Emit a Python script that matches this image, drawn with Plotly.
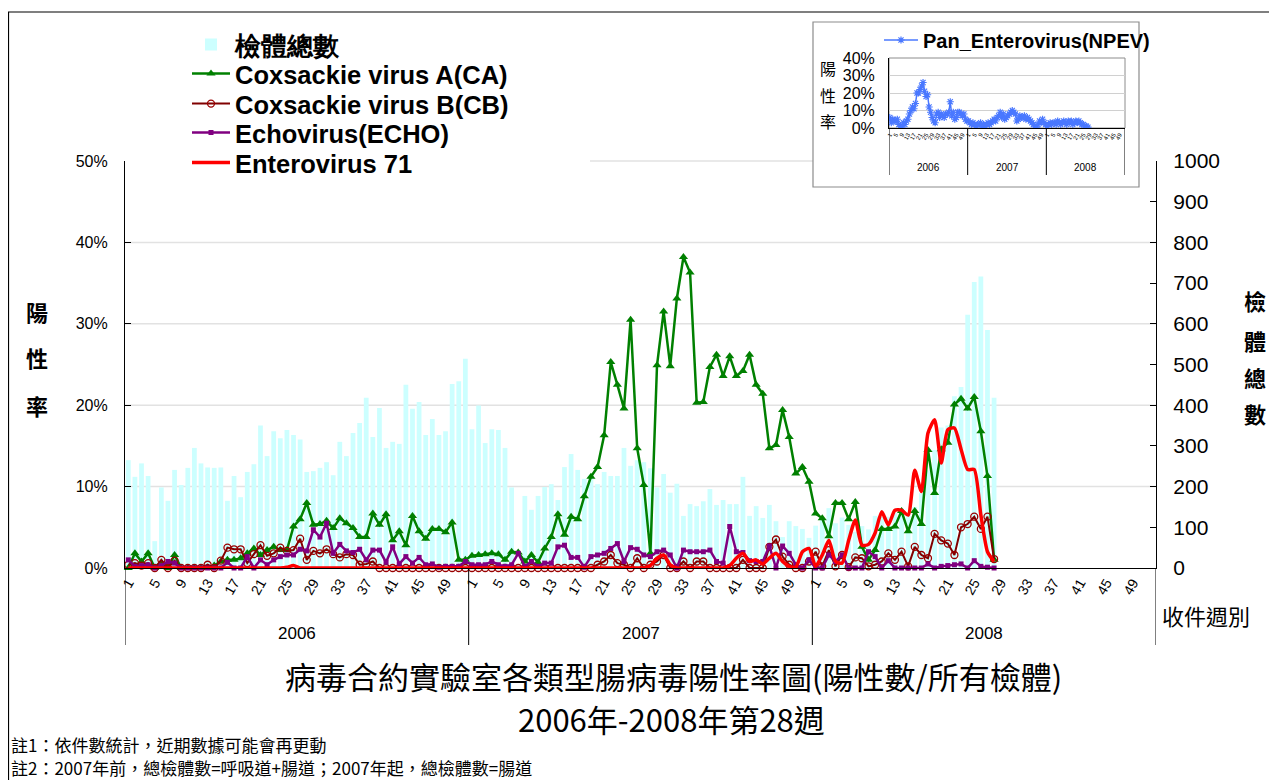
import plotly.graph_objects as go

# ---------------- data ----------------
years = ["2006", "2007", "2008"]
weeks_per_year = 52
tick_weeks = [1, 5, 9, 13, 17, 21, 25, 29, 33, 37, 41, 45, 49]

# total specimens per week (right axis)
specimens_2006 = [265, 224, 257, 226, 66, 198, 165, 241, 204, 246, 295, 257, 247, 246, 247, 165, 226, 174, 236, 255,
                  350, 275, 336, 319, 339, 327, 316, 236, 238, 246, 260, 228, 310, 275, 332, 356, 418, 322, 393, 295,
                  310, 305, 450, 391, 408, 327, 366, 327, 336, 452, 459, 514]
specimens_2007 = [341, 399, 307, 341, 339, 295, 198, 10, 177, 143, 177, 199, 206, 167, 248, 280, 241, 219, 228, 206,
                  236, 226, 226, 295, 251, 265, 260, 245, 198, 231, 185, 207, 128, 157, 152, 164, 194, 155, 167, 157,
                  157, 224, 128, 152, 123, 155, 115, 76, 115, 103, 96, 74]
specimens_2008 = [104, 118, 147, 110, 124, 106, 89, 103, 95, 128, 126, 126, 135, 147, 135, 150, 184, 240, 290, 345,
                  350, 422, 445, 622, 703, 716, 585, 418]

# positive rates (%) (left axis)
ca_2006 = [0, 1.8, 0.8, 1.8, 0, 0.4, 0, 1.6, 0, 0, 0, 0, 0, 0.3, 0.8, 1.0, 1.0, 1.2, 1.8, 2.4,
           1.6, 2.2, 2.6, 2.2, 2.2, 5.1, 6.0, 8.0, 5.3, 5.4, 5.8, 4.9, 6.1, 5.5, 4.9, 3.8, 3.8, 6.7, 5.3, 6.6,
           3.4, 4.5, 2.8, 6.4, 4.5, 3.6, 4.8, 4.8, 4.4, 5.6, 1.0, 1.0]
ca_2007 = [1.5, 1.6, 1.7, 1.8, 1.7, 1.0, 2.0, 1.9, 0.8, 1.6, 0.7, 2.4, 3.8, 6.6, 4.1, 6.3, 6.0, 8.8, 11.2, 12.4,
           16.3, 25.3, 22.5, 19.6, 30.5, 14.7, 10.2, 1.8, 24.9, 31.5, 24.8, 33.1, 38.2, 36.3, 20.3, 20.4, 24.7, 26.2,
           23.6, 26.0, 23.6, 24.2, 26.2, 22.5, 21.4, 14.7, 15.1, 19.4, 16.1, 11.6, 12.4, 10.6]
ca_2008 = [6.7, 6.1, 3.9, 8.0, 8.0, 6.0, 8.1, 2.6, 1.0, 2.2, 4.8, 4.8, 5.1, 7.0, 4.5, 7.0, 5.4, 14.5, 9.2, 14.6,
           15.4, 20.1, 20.8, 19.6, 21.0, 16.8, 11.3, 1.0]

cb_2006 = [0.4, 0.6, 0.3, 0.6, 0, 1.0, 0, 0.9, 0, 0, 0, 0, 0.4, 0, 0.9, 2.5, 2.3, 2.3, 0.6, 1.7,
           2.8, 1.5, 1.8, 2.5, 2.1, 2.2, 3.6, 1.0, 2.1, 1.8, 2.3, 1.7, 1.3, 1.7, 1.6, 0.4, 0.5, 0.8, 0, 0,
           0, 0, 0, 0, 0, 0, 0, 0, 0, 0, 0, 0]
cb_2007 = [0, 0, 0, 0, 0, 0, 0, 0, 0, 0, 0, 0, 0, 0, 0, 0, 0, 0, 0, 0.4,
           0.8, 1.6, 0.6, 0.4, 0, 1.2, 0, 0.4, 0.8, 1.6, 0, 0, 0.8, 0, 0.8, 0.8, 0, 0, 0, 0,
           0, 1.0, 0, 0, 0, 2.6, 3.5, 1.4, 0.4, 0, 0, 0.8]
cb_2008 = [2.0, 0.2, 2.2, 0.2, 1.6, 0.1, 1.3, 1.2, 0.2, 0.4, 0.8, 1.8, 1.0, 2.0, 0.2, 2.6, 1.6, 1.2, 4.2, 3.4,
           3.0, 1.6, 5.0, 5.4, 6.3, 4.8, 6.3, 1.1]

echo_2006 = [1.0, 0.2, 0.3, 0.4, 0, 0.3, 0.8, 0.6, 0, 0, 0, 0, 0, 0, 0, 0.7, 0, 0, 1.4, 0,
             1.0, 0.4, 1.0, 1.4, 1.6, 1.6, 2.3, 2.1, 4.7, 3.8, 5.5, 1.8, 2.9, 2.1, 1.9, 2.3, 1.0, 2.2, 2.2, 0.7,
             2.6, 0.5, 1.4, 0.6, 1.3, 0.4, 0.5, 0.1, 0.2, 0.2, 0.2, 0.8]
echo_2007 = [0.4, 0.4, 0.4, 0.8, 0.4, 0.2, 0.4, 1.8, 0.2, 0.8, 0.2, 0.6, 0.6, 2.6, 2.8, 1.3, 1.3, 0.1, 1.4, 1.6,
             1.8, 2.4, 3.0, 0.8, 2.5, 2.3, 1.6, 1.4, 2.0, 2.2, 1.6, 0, 2.2, 2.0, 2.0, 2.0, 2.2, 0.8, 0.6, 5.1,
             2.0, 1.9, 0.9, 0.8, 0.8, 2.7, 0, 2.7, 1.8, 0.4, 0, 1.0]
echo_2008 = [0, 0, 1.6, 0.8, 1.6, 0, 0, 0, 2.0, 1.4, 0, 0.9, 0, 0, 0, 0, 0, 0.5, 0, 0.2,
             0.3, 0.4, 0.5, 0, 0.9, 0.2, 0.1, 0]

ev71_2006 = [0, 0, 0, 0, 0, 0, 0, 0, 0, 0, 0, 0, 0, 0, 0, 0, 0, 0, 0, 0,
             0, 0, 0, 0, 0.1, 0.3, 0, 0, 0, 0, 0, 0, 0, 0, 0, 0, 0, 0, 0, 0,
             0, 0, 0, 0, 0, 0, 0, 0, 0, 0, 0, 0]
ev71_2007 = [0, 0, 0, 0, 0, 0, 0, 0, 0, 0, 0, 0, 0, 0, 0, 0, 0, 0, 0, 0,
             0, 0, 0, 0, 0, 0, 0, 0.3, 1.2, 1.6, 0.4, 0, 0, 0, 0, 0, 0, 0, 0, 0.3,
             1.2, 1.8, 0.8, 1.0, 0.5, 1.2, 1.8, 0.8, 0.2, 0.1, 2.0, 2.4]
ev71_2008 = [0.2, 1.6, 3.4, 0.8, 0.6, 3.4, 5.9, 2.8, 2.9, 4.3, 6.9, 5.3, 7.1, 7.1, 6.5, 12.0, 9.4, 16.6, 18.2, 12.9,
             17.0, 17.2, 14.6, 12.1, 12.1, 6.5, 2.0, 0.8]

# inset: Pan_Enterovirus (NPEV) positive rate (%)
npev_2006 = [6, 3, 5, 4, 4, 5, 2, 1, 1, 3, 2, 4, 5, 8, 10, 12, 11, 14, 20, 20, 22, 24, 26, 21, 18, 19,
             12, 9, 6, 4, 3, 8, 9, 6, 8, 7, 6, 8, 8, 9, 15, 7, 9, 5, 6, 9, 9, 8, 7, 8, 5, 4]
npev_2007 = [4, 3, 2, 3, 2, 1, 2, 2, 3, 1, 2, 1, 2, 3, 2, 3, 4, 5, 4, 6, 7, 9, 6, 8, 5, 6, 7, 8, 9, 10,
             9, 8, 4, 5, 7, 6, 6, 7, 5, 6, 5, 4, 3, 2, 1, 0.5, 2, 4, 3, 5, 3, 2]
npev_2008 = [1, 2, 3, 2, 3, 3, 2, 4, 3, 2, 3, 4, 3, 2, 4, 3, 4, 2, 3, 4, 3, 4, 3, 2, 2, 1, 1, 0.5]

series_names = ["Coxsackie virus A(CA)", "Coxsackie virus B(CB)", "Echovirus(ECHO)", "Enterovirus 71"]
bar_name = "檢體總數"
inset_name = "Pan_Enterovirus(NPEV)"

# ---------------- layout geometry (reference pixel coords) ----------------
W, H = 1277, 780
OFF = 8                      # page body margin of the html page
ML, MR, MT, MB = 125 - OFF, W - (1156 - OFF), 20 - OFF, H - (568 - OFF)
PW = W - ML - MR
PH = H - MT - MB
MAIN_TOP = 161


def px(xr):
    return (xr - OFF - ML) / PW


def py(yr):
    return (H - MB - (yr - OFF)) / PH


def seq(parts):
    out = []
    for p in parts:
        out += p
    return out


def week_positions(n_by_year):
    xs = []
    for i, n in enumerate(n_by_year):
        xs += [i * weeks_per_year + w for w in range(1, n + 1)]
    return xs


spec = seq([specimens_2006, specimens_2007, specimens_2008])
ca = seq([ca_2006, ca_2007, ca_2008])
cb = seq([cb_2006, cb_2007, cb_2008])
echo = seq([echo_2006, echo_2007, echo_2008])
ev71 = seq([ev71_2006, ev71_2007, ev71_2008])
npev = seq([npev_2006, npev_2007, npev_2008])
xw = week_positions([len(specimens_2006), len(specimens_2007), len(specimens_2008)])
xn = week_positions([len(npev_2006), len(npev_2007), len(npev_2008)])

tickvals = [i * weeks_per_year + w for i in range(len(years)) for w in tick_weeks]
ticktext = [str(w) for i in range(len(years)) for w in tick_weeks]
xmax = len(years) * weeks_per_year + 0.5

ARIAL = "Liberation Sans, Arial, sans-serif"
CJK = "Noto Sans CJK TC, sans-serif"

fig = go.Figure()

fig.add_trace(go.Bar(x=xw, y=spec, name=bar_name, marker=dict(color="#CCFFFF", line=dict(width=0)),
                     width=0.72, xaxis="x", yaxis="y", legend="legend"))
fig.add_trace(go.Scatter(x=xw, y=ca, name=series_names[0], mode="lines+markers", xaxis="x", yaxis="y2",
                         line=dict(color="#008000", width=2.5),
                         marker=dict(symbol="triangle-up", size=8, color="#008000"), cliponaxis=False,
                         legend="legend3"))
fig.add_trace(go.Scatter(x=xw, y=cb, name=series_names[1], mode="lines+markers", xaxis="x", yaxis="y2",
                         line=dict(color="#800000", width=2),
                         marker=dict(symbol="circle-open", size=7, color="#990000", line=dict(width=1.3)),
                         cliponaxis=False, legend="legend4"))
fig.add_trace(go.Scatter(x=xw, y=echo, name=series_names[2], mode="lines+markers", xaxis="x", yaxis="y2",
                         line=dict(color="#800080", width=2.5),
                         marker=dict(symbol="square", size=5, color="#800080"), cliponaxis=False,
                         legend="legend5"))
fig.add_trace(go.Scatter(x=xw, y=ev71, name=series_names[3], mode="lines", xaxis="x", yaxis="y2",
                         line=dict(color="#FF0000", width=3.5, shape="spline", smoothing=0.6),
                         cliponaxis=False, legend="legend6"))
fig.add_trace(go.Scatter(x=xn, y=npev, name=inset_name, mode="lines+markers", xaxis="x2", yaxis="y3",
                         line=dict(color="#4A78FF", width=1.5),
                         marker=dict(symbol="asterisk-open", size=6, color="#4A78FF",
                                     line=dict(width=1.2, color="#4A78FF")),
                         legend="legend2"))

main_ydom = [0, py(MAIN_TOP)]
inset_xdom = [px(889), px(1125)]
inset_ydom = [py(128), py(58)]


def legend_at(yr, size, xr=187, iw=38):
    return dict(x=px(xr), y=py(yr), xanchor="left", yanchor="middle", bgcolor="rgba(255,255,255,0)",
                font=dict(size=size, family=ARIAL, weight="bold"), itemwidth=iw)


fig.update_layout(
    width=W, height=H, autosize=False,
    margin=dict(l=ML, r=MR, t=MT, b=MB, pad=0, autoexpand=False),
    paper_bgcolor="white", plot_bgcolor="rgba(0,0,0,0)",
    font=dict(family=ARIAL, color="black"),
    showlegend=True,
    xaxis=dict(domain=[0, 1], range=[0.5, xmax], tickvals=tickvals, ticktext=ticktext, tickangle=-60,
               tickfont=dict(size=14, family=ARIAL), showline=True, linecolor="black", linewidth=1.2,
               ticks="", showgrid=False, zeroline=False, anchor="y", automargin=False),
    yaxis=dict(domain=main_ydom, range=[0, 1000], dtick=100, side="right", anchor="x",
               showline=True, linecolor="black", linewidth=1.2, ticks="inside", ticklen=6, tickcolor="black",
               tickfont=dict(size=21, family=ARIAL), showgrid=False, zeroline=False, ticklabelstandoff=12,
               automargin=False),
    yaxis2=dict(overlaying="y", side="left", range=[0, 50], dtick=10, ticksuffix="%", anchor="x",
                showline=True, linecolor="black", linewidth=1.2, ticks="inside", ticklen=6, tickcolor="black",
                tickfont=dict(size=16, family=ARIAL), showgrid=False, zeroline=False, ticklabelstandoff=13,
                automargin=False),
    xaxis2=dict(domain=inset_xdom, range=[0.5, xmax], anchor="y3", tickvals=tickvals, ticktext=ticktext,
                tickangle=-60, tickfont=dict(size=6, family=ARIAL), showline=True, linecolor="black",
                linewidth=1, ticks="", showgrid=False, zeroline=False, automargin=False),
    yaxis3=dict(domain=inset_ydom, anchor="x2", range=[0, 40], dtick=10, ticksuffix="%",
                tickfont=dict(size=16, family=ARIAL), showline=True, linecolor="black", linewidth=1,
                ticks="", showgrid=True, gridcolor="#d0d0d0", zeroline=False, ticklabelstandoff=10,
                automargin=False),
    legend=legend_at(45, 25.5),
    legend3=legend_at(74, 25.5),
    legend4=legend_at(104, 25.5),
    legend5=legend_at(133, 25.5),
    legend6=legend_at(163, 25.5),
    legend2=legend_at(40, 20, xr=879, iw=34),
)

shapes = []
# outer frame
shapes.append(dict(type="rect", xref="paper", yref="paper", x0=px(8.5), x1=px(1310), y0=py(12), y1=py(820),
                   line=dict(color="black", width=1.2), layer="below"))
# horizontal grid lines (every 10%)
for k in range(1, 5):
    shapes.append(dict(type="line", xref="x domain", yref="y domain", x0=0, x1=1, y0=k / 5, y1=k / 5,
                       line=dict(color="#e2e2e2", width=1.5), layer="below"))
shapes.append(dict(type="line", xref="x domain", yref="y domain", x0=px(590), x1=px(813),
                   y0=1, y1=1, line=dict(color="#e2e2e2", width=1.5), layer="below"))
# year dividers under the main axis
for i in range(len(years) + 1):
    xv = i * weeks_per_year + 0.5
    shapes.append(dict(type="line", xref="x", yref="paper", x0=xv, x1=xv, y0=py(568), y1=py(645),
                       line=dict(color="black", width=1)))
# inset box
shapes.append(dict(type="rect", xref="paper", yref="paper", x0=px(813), x1=px(1139), y0=py(22), y1=py(187),
                   line=dict(color="#8c8c8c", width=1.2), fillcolor="white", layer="below"))
shapes.append(dict(type="rect", xref="x2 domain", yref="y3 domain", x0=0, x1=1, y0=0, y1=1,
                   line=dict(color="#8c8c8c", width=1), layer="below"))
for i in range(len(years) + 1):
    xv = i * weeks_per_year + 0.5
    shapes.append(dict(type="line", xref="x2", yref="paper", x0=xv, x1=xv, y0=py(128), y1=py(175),
                       line=dict(color="black", width=1)))
fig.update_layout(shapes=shapes)

ann = []


def text(xr, yr, t, size, family=CJK, bold=False, xanchor="center"):
    ann.append(dict(x=px(xr), y=py(yr), xref="paper", yref="paper", text=t, showarrow=False,
                    xanchor=xanchor, yanchor="middle",
                    font=dict(size=size, family=family, color="black", weight="bold" if bold else "normal")))


for ch, yy in zip("陽性率", [311, 357, 405]):
    text(37, yy, ch, 22, bold=True)
for ch, yy in zip("檢體總數", [300, 340, 377, 413]):
    text(1255, yy, ch, 22, bold=True)
text(1206, 615, "收件週別", 22)
for i, y in enumerate(years):
    text(125 + (i + 0.5) * (1156 - 125) / 3, 633, y, 17, family=ARIAL)
text(673, 675, "病毒合約實驗室各類型腸病毒陽性率圖(陽性數/所有檢體)", 31)
text(671, 718, "2006年-2008年第28週", 31)
text(9, 744, "註1：依件數統計，近期數據可能會再更動", 17, xanchor="left")
text(9, 767, "註2：2007年前，總檢體數=呼吸道+腸道；2007年起，總檢體數=腸道", 17, xanchor="left")
# inset texts
for ch, yy in zip("陽性率", [68, 95, 121]):
    text(828, yy, ch, 16)
for i, y in enumerate(years):
    text(889 + (i + 0.5) * (1125 - 889) / 3, 167, y, 10, family=ARIAL)

fig.update_layout(annotations=ann)

fig.write_html("out.html")
